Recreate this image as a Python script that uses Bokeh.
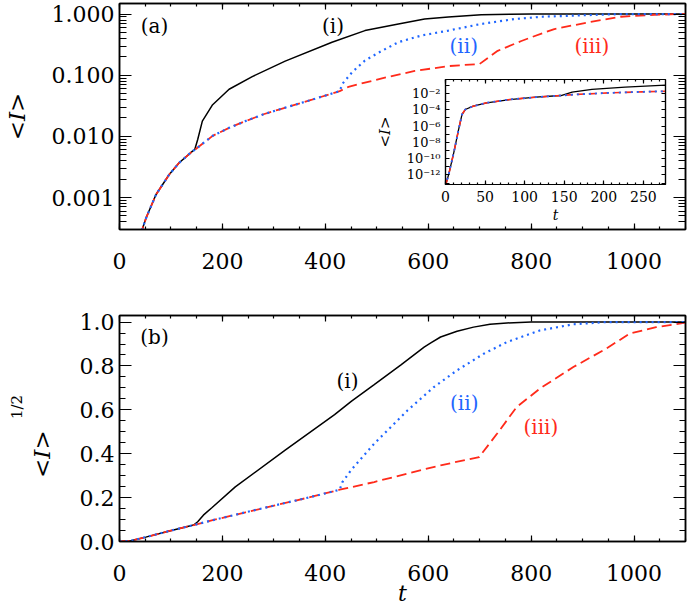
from bokeh.plotting import figure
from bokeh.layouts import column
from bokeh.models import (LinearAxis, LogAxis, FixedTicker, SingleIntervalTicker,
                          PrintfTickFormatter, CustomJSTickFormatter, Label, Range1d)
from bokeh.embed import file_html
from bokeh.resources import INLINE

SERIF = "DejaVu Serif"
RED = "#ff2a1a"
BLUE = "#1f66ff"
BLACK = "#000000"
NB = "\u00a0"

# ---------------- panel (a): <I> on a log axis ----------------
a_common_t = [35, 44, 52, 71, 97, 116, 142, 146]
a_common_I = [2.5e-4, 3.0e-4, 4.7e-4, 1.12e-3, 2.4e-3, 3.7e-3, 5.75e-3, 6.0e-3]
a_rb_t = [181, 213, 245, 280, 310, 374, 428]
a_rb_I = [0.0102, 0.0138, 0.0178, 0.023, 0.0275, 0.0398, 0.055]
a_black_t = [152, 161, 181, 213, 258, 322, 413, 477, 542, 593, 639, 703, 760, 800, 1100]
a_black_I = [8.9e-3, 0.0178, 0.033, 0.059, 0.095, 0.17, 0.347, 0.537, 0.69, 0.83, 0.90, 0.975, 0.993, 1.0, 1.0]
a_blue_t = [433, 452, 477, 510, 542, 587, 639, 703, 768, 820, 877, 930, 974, 1100]
a_blue_I = [0.072, 0.112, 0.174, 0.251, 0.347, 0.447, 0.537, 0.69, 0.83, 0.905, 0.94, 0.975, 1.0, 1.0]
a_red_t = [445, 510, 574, 639, 700, 735, 781, 800, 845, 910, 974, 1039, 1090, 1100]
a_red_I = [0.0646, 0.089, 0.1175, 0.141, 0.153, 0.251, 0.363, 0.417, 0.569, 0.73, 0.904, 0.975, 1.0, 1.0]

# ---------------- panel (b): <I>^(1/2) ----------------
b_common_t = [0, 22, 51, 97, 144]
b_common_v = [0.0, 0.003, 0.02, 0.048, 0.075]
b_rb_t = [181, 245, 310, 374, 428]
b_rb_v = [0.097, 0.133, 0.169, 0.204, 0.236]
b_black_t = [152, 163, 180, 225, 322, 418, 451, 495, 547, 592, 605, 624, 656, 688, 720, 753, 800, 1100]
b_black_v = [0.09, 0.12, 0.155, 0.249, 0.416, 0.578, 0.64, 0.715, 0.805, 0.886, 0.905, 0.932, 0.958, 0.977, 0.99, 0.996, 1.0, 1.0]
b_blue_t = [433, 450, 495, 560, 611, 656, 708, 753, 817, 882, 946, 1100]
b_blue_v = [0.27, 0.325, 0.446, 0.598, 0.704, 0.78, 0.856, 0.909, 0.962, 0.99, 1.0, 1.0]
b_red_t = [495, 560, 624, 699, 734, 772, 817, 882, 946, 991, 1043, 1094, 1100]
b_red_v = [0.271, 0.31, 0.347, 0.385, 0.492, 0.613, 0.697, 0.795, 0.879, 0.947, 0.977, 0.995, 0.996]

# ---------------- inset: early times ----------------
i_common_t = [0, 4, 10.4, 16.6, 20.8, 25, 35, 52, 81, 114, 146]
i_common_I = [5e-14, 1.1e-12, 5e-10, 3.8e-7, 2.6e-5, 1.07e-4, 2.75e-4, 7.1e-4, 1.8e-3, 3.5e-3, 5.6e-3]
i_black_t = [160, 185, 227, 278]
i_black_I = [0.0145, 0.031, 0.059, 0.105]
i_rb_t = [164.5, 206, 248, 278]
i_rb_I = [7.6e-3, 0.0117, 0.0158, 0.019]

a_log_ticks = [0.001, 0.01, 0.1, 1.0]
inset_log_ticks = [1e-12, 1e-10, 1e-8, 1e-6, 1e-4, 1e-2]
inset_log_minor = [1e-13, 1e-11, 1e-9, 1e-7, 1e-5, 1e-3, 1e-1]

BLANK = CustomJSTickFormatter(code="return '';")
SUP = CustomJSTickFormatter(code="""
const e = Math.round(Math.log10(tick));
const sup = {"-": "\u207b", "0": "\u2070", "1": "\u00b9", "2": "\u00b2", "3": "\u00b3",
             "4": "\u2074", "5": "\u2075", "6": "\u2076", "7": "\u2077", "8": "\u2078", "9": "\u2079"};
let s = "";
for (const c of String(e)) { s += sup[c]; }
return "10" + s;
""")


def style_axis(ax, maj, mnr, size="22px", standoff=5, show=True):
    ax.major_tick_in = maj
    ax.major_tick_out = 0
    ax.minor_tick_in = mnr
    ax.minor_tick_out = 0
    ax.axis_line_width = 1.5
    ax.axis_line_color = BLACK
    ax.major_tick_line_width = 1.2
    ax.minor_tick_line_width = 1.2
    ax.major_tick_line_color = BLACK
    ax.minor_tick_line_color = BLACK
    ax.major_label_text_font = SERIF
    ax.major_label_text_color = BLACK
    if show:
        ax.major_label_text_font_size = size
        ax.major_label_standoff = standoff
    else:
        ax.major_label_text_font_size = "0px"
        ax.major_label_standoff = 0


def axis_title(ax, text, size, standoff, style="italic"):
    ax.axis_label = text
    ax.axis_label_text_font = SERIF
    ax.axis_label_text_font_style = style
    ax.axis_label_text_font_size = size
    ax.axis_label_text_color = BLACK
    ax.axis_label_standoff = standoff


def base(p):
    p.xgrid.visible = False
    p.ygrid.visible = False
    p.outline_line_color = BLACK
    p.outline_line_width = 1.5
    p.background_fill_color = "white"


def mirror(p, xticker, yticker, ylog, xmaj, xmin_, ymaj, ymin_):
    top = LinearAxis(ticker=xticker, formatter=BLANK)
    style_axis(top, xmaj, xmin_, show=False)
    p.add_layout(top, "above")
    right = (LogAxis if ylog else LinearAxis)(ticker=yticker, formatter=BLANK)
    style_axis(right, ymaj, ymin_, show=False)
    p.add_layout(right, "right")


def lab(p, x, y, text, color=BLACK, size="20px"):
    p.add_layout(Label(x=x, y=y, text=text, text_color=color, text_font=SERIF,
                       text_font_size=size, text_align="center", text_baseline="middle"))


# ================= panel (a) =================
p1 = figure(width=688, height=279, x_range=Range1d(0, 1100), y_range=Range1d(3.0e-4, 1.49),
            y_axis_type="log", output_backend="svg", toolbar_location=None,
            min_border_left=117, min_border_right=3, min_border_top=3, min_border_bottom=50)
base(p1)
xt1 = SingleIntervalTicker(interval=200, num_minor_ticks=4)
yt1 = FixedTicker(ticks=a_log_ticks,
                  minor_ticks=[k * 10.0 ** e for e in range(-4, 1) for k in range(2, 10)])
p1.xaxis[0].ticker = xt1
style_axis(p1.xaxis[0], 6, 3, standoff=23)
p1.yaxis[0].ticker = yt1
p1.yaxis[0].formatter = PrintfTickFormatter(format="%.3f")
style_axis(p1.yaxis[0], 12, 7, standoff=5)
axis_title(p1.yaxis[0], "<I>", "23px", 19)
mirror(p1, xt1, yt1, True, 6, 3, 12, 7)

p1.line(a_common_t + a_black_t, a_common_I + a_black_I, line_color=BLACK, line_width=1.5)
p1.line(a_common_t + a_rb_t + a_red_t, a_common_I + a_rb_I + a_red_I,
        line_color=RED, line_width=1.8, line_dash="10 5")
p1.line(a_common_t + a_rb_t + a_blue_t, a_common_I + a_rb_I + a_blue_I,
        line_color=BLUE, line_width=2.2, line_dash="2 4")

lab(p1, 68, 0.65, "(a)")
lab(p1, 415, 0.65, "(i)")
lab(p1, 669, 0.30, "(ii)", color=BLUE)
lab(p1, 918, 0.30, "(iii)", color=RED)

# ================= panel (b) =================
p2 = figure(width=688, height=330, x_range=Range1d(0, 1100), y_range=Range1d(0, 1.03),
            output_backend="svg", toolbar_location=None,
            min_border_left=117, min_border_right=3, min_border_top=36, min_border_bottom=68)
base(p2)
xt2 = SingleIntervalTicker(interval=200, num_minor_ticks=4)
yt2 = SingleIntervalTicker(interval=0.2, num_minor_ticks=4)
p2.xaxis[0].ticker = xt2
style_axis(p2.xaxis[0], 6, 3, standoff=23)
axis_title(p2.xaxis[0], "t", "22px", -3)
p2.yaxis[0].ticker = yt2
p2.yaxis[0].formatter = PrintfTickFormatter(format="%.1f")
style_axis(p2.yaxis[0], 12, 6, standoff=5)
axis_title(p2.yaxis[0], "<I>" + NB * 7, "23px", 22)
mirror(p2, xt2, yt2, False, 6, 3, 12, 6)
# outer left axis that only carries the 1/2 exponent of the y title
exp_axis = LinearAxis(ticker=FixedTicker(ticks=[]), formatter=BLANK)
style_axis(exp_axis, 0, 0, show=False)
exp_axis.axis_line_color = None
axis_title(exp_axis, NB * 9 + "1/2", "15px", 0, style="normal")
p2.add_layout(exp_axis, "left")

p2.line(b_common_t + b_black_t, b_common_v + b_black_v, line_color=BLACK, line_width=1.5)
p2.line(b_common_t + b_rb_t + b_red_t, b_common_v + b_rb_v + b_red_v,
        line_color=RED, line_width=1.8, line_dash="10 5")
p2.line(b_common_t + b_rb_t + b_blue_t, b_common_v + b_rb_v + b_blue_v,
        line_color=BLUE, line_width=2.2, line_dash="2 4")

lab(p2, 68, 0.93, "(b)")
lab(p2, 443, 0.73, "(i)")
lab(p2, 670, 0.63, "(ii)", color=BLUE)
lab(p2, 819, 0.52, "(iii)", color=RED)

# ================= inset =================
ins = figure(width=342, height=155, x_range=Range1d(0, 278), y_range=Range1d(6.6e-14, 0.52),
             y_axis_type="log", output_backend="svg", toolbar_location=None,
             min_border_left=117, min_border_right=3, min_border_top=6, min_border_bottom=44)
base(ins)
ins.border_fill_alpha = 0
ins.outline_line_width = 1.2
xt3 = SingleIntervalTicker(interval=50, num_minor_ticks=5)
yt3 = FixedTicker(ticks=inset_log_ticks, minor_ticks=inset_log_minor)
ins.xaxis[0].ticker = xt3
style_axis(ins.xaxis[0], 4, 2, size="14px", standoff=6)
axis_title(ins.xaxis[0], "t", "14px", 2)
ins.yaxis[0].ticker = yt3
ins.yaxis[0].formatter = SUP
style_axis(ins.yaxis[0], 4, 4, size="13px", standoff=5)
axis_title(ins.yaxis[0], "<I>", "15px", 10)
mirror(ins, xt3, yt3, True, 4, 2, 4, 4)
for ax in ins.axis:
    ax.axis_line_width = 1.2

ins.line(i_common_t + i_black_t, i_common_I + i_black_I, line_color=BLACK, line_width=1.3)
ins.line(i_common_t + i_rb_t, i_common_I + i_rb_I, line_color=RED, line_width=1.6, line_dash="8 4")
ins.line(i_common_t + i_rb_t, i_common_I + i_rb_I, line_color=BLUE, line_width=1.8, line_dash="2 4")

ins.styles = {"position": "absolute", "left": "326px", "top": "73px", "z-index": "5"}

layout = column(p1, p2, ins)
open("out.html", "w", encoding="utf-8").write(file_html(layout, INLINE))
